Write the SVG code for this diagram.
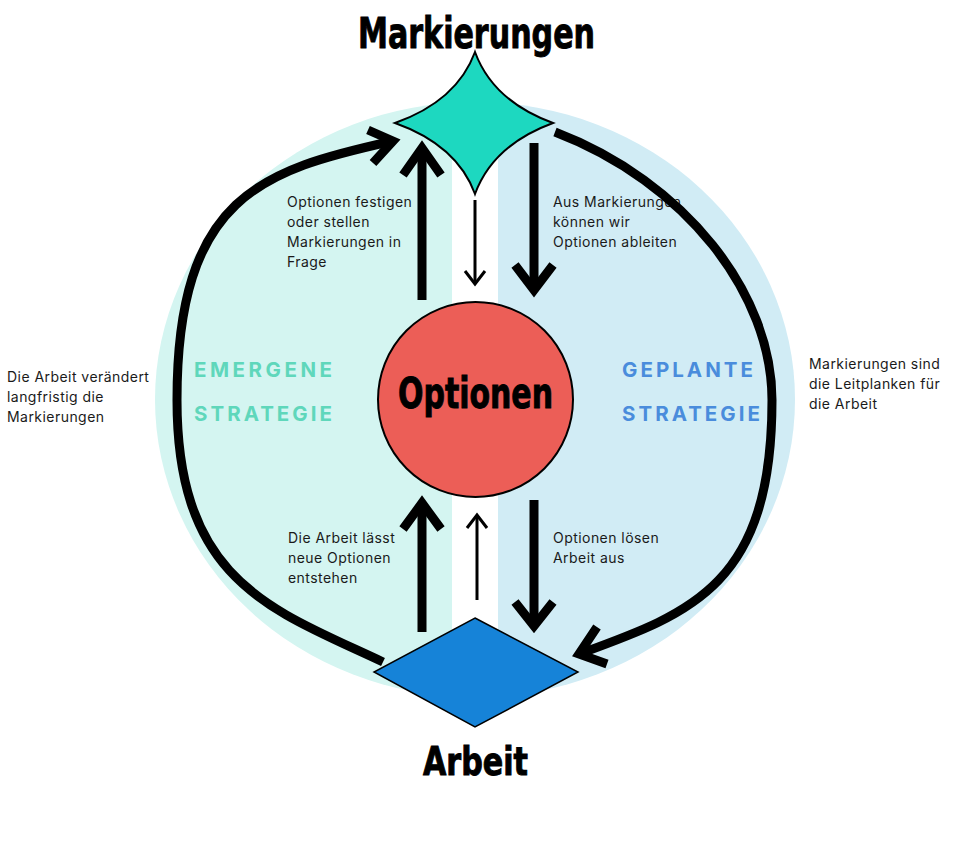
<svg xmlns="http://www.w3.org/2000/svg" width="960" height="846" viewBox="0 0 960 846">
  <style>
    .title { font-family: "Liberation Sans Narrow", "DejaVu Sans Condensed", "Liberation Sans", sans-serif; font-weight: bold; fill: #000; stroke: #000; stroke-width: 0.9; }
    .lbl { font-family: Inter, "Noto Sans", "Liberation Sans", sans-serif; font-size: 14px; letter-spacing: 0.45px; fill: #1a1a1a; }
    .strat { font-family: Inter, "Noto Sans", "Liberation Sans", sans-serif; font-size: 20.5px; font-weight: bold; }
    .em { fill: #5fd7bb; }
    .gp { fill: #4a8cdc; }
    .thick { fill: none; stroke: #000; stroke-width: 9; stroke-linejoin: miter; stroke-miterlimit: 10; }
    .thin { fill: none; stroke: #000; stroke-width: 3; stroke-linejoin: miter; stroke-miterlimit: 10; }
  </style>
  <defs>
    <clipPath id="bgclip">
      <ellipse cx="475" cy="399.5" rx="320" ry="297.5"/>
    </clipPath>
  </defs>
  <rect x="0" y="0" width="960" height="846" fill="#ffffff"/>
  <g id="background" clip-path="url(#bgclip)">
    <rect x="0" y="0" width="475" height="846" fill="#d4f5f1"/>
    <rect x="475" y="0" width="485" height="846" fill="#d1ecf5"/>
    <rect x="452" y="123" width="46" height="600" fill="#ffffff"/>
  </g>

  <g id="labels">
    <text class="lbl" x="287" y="207">Optionen festigen</text>
    <text class="lbl" x="287" y="227">oder stellen</text>
    <text class="lbl" x="287" y="247">Markierungen in</text>
    <text class="lbl" x="287" y="267">Frage</text>
    <text class="lbl" x="553" y="207">Aus Markierungen</text>
    <text class="lbl" x="553" y="227">können wir</text>
    <text class="lbl" x="553" y="247">Optionen ableiten</text>
    <text class="lbl" x="7" y="382">Die Arbeit verändert</text>
    <text class="lbl" x="7" y="402">langfristig die</text>
    <text class="lbl" x="7" y="422">Markierungen</text>
    <text class="lbl" x="809" y="369">Markierungen sind</text>
    <text class="lbl" x="809" y="389">die Leitplanken für</text>
    <text class="lbl" x="809" y="409">die Arbeit</text>
    <text class="lbl" x="288" y="543">Die Arbeit lässt</text>
    <text class="lbl" x="288" y="563">neue Optionen</text>
    <text class="lbl" x="288" y="583">entstehen</text>
    <text class="lbl" x="553" y="543">Optionen lösen</text>
    <text class="lbl" x="553" y="563">Arbeit aus</text>
    <text class="strat em" x="194" y="377" textLength="138" lengthAdjust="spacing">EMERGENE</text>
    <text class="strat em" x="194" y="421" textLength="138" lengthAdjust="spacing">STRATEGIE</text>
    <text class="strat gp" x="622" y="377" textLength="131" lengthAdjust="spacing">GEPLANTE</text>
    <text class="strat gp" x="622" y="421" textLength="138" lengthAdjust="spacing">STRATEGIE</text>
  </g>

  <g id="connectors">
    <!-- left big arc: Arbeit -> Markierungen -->
    <path class="thick" d="M383,662 C273,610 177,583 177,400 C177,196 262,170 393,141"/>
    <polyline class="thick" points="368,130 393,141 373,163"/>
    <!-- right big arc: Markierungen -> Arbeit -->
    <path class="thick" d="M555,132 C686,182 772,294 772,400 C772,585 692,613 579,654"/>
    <polyline class="thick" points="597,627 579,654 607,664"/>
    <!-- top left up -->
    <line class="thick" x1="422" y1="300" x2="422" y2="150"/>
    <polyline class="thick" points="403,175 422,148 441,175"/>
    <!-- top thin down -->
    <line class="thin" x1="475" y1="200" x2="475" y2="283"/>
    <polyline class="thin" points="465,271 475,284 485,271"/>
    <!-- top right down -->
    <line class="thick" x1="534" y1="143" x2="534" y2="288"/>
    <polyline class="thick" points="515,265 534,290 553,265"/>
    <!-- bottom left up -->
    <line class="thick" x1="422" y1="632" x2="422" y2="505"/>
    <polyline class="thick" points="403,529 422,503 441,529"/>
    <!-- bottom thin up -->
    <line class="thin" x1="477" y1="600" x2="477" y2="516"/>
    <polyline class="thin" points="467,528 477,515 487,528"/>
    <!-- bottom right down -->
    <line class="thick" x1="534" y1="500" x2="534" y2="624"/>
    <polyline class="thick" points="515,602 534,626 553,602"/>
  </g>

  <g id="markierungen">
    <path d="M475,52 Q493,101 553,123 Q493,145 475,194 Q457,145 395,123 Q457,101 475,52 Z" fill="#1dd8c0" stroke="#000" stroke-width="2" stroke-linejoin="miter" stroke-miterlimit="20"/>
    <text class="title" x="358" y="48" font-size="43" textLength="237" lengthAdjust="spacingAndGlyphs">Markierungen</text>
  </g>

  <g id="optionen">
    <circle cx="475.5" cy="399.5" r="97.5" fill="#ec5e57" stroke="#000" stroke-width="2"/>
    <text class="title" x="398" y="408" font-size="42" textLength="155" lengthAdjust="spacingAndGlyphs">Optionen</text>
  </g>

  <g id="arbeit">
    <polygon points="475,618 578,672 475,727 374,672" fill="#1683d8" stroke="#000" stroke-width="1.5"/>
    <text class="title" x="423" y="775" font-size="39" textLength="105" lengthAdjust="spacingAndGlyphs">Arbeit</text>
  </g>
</svg>
